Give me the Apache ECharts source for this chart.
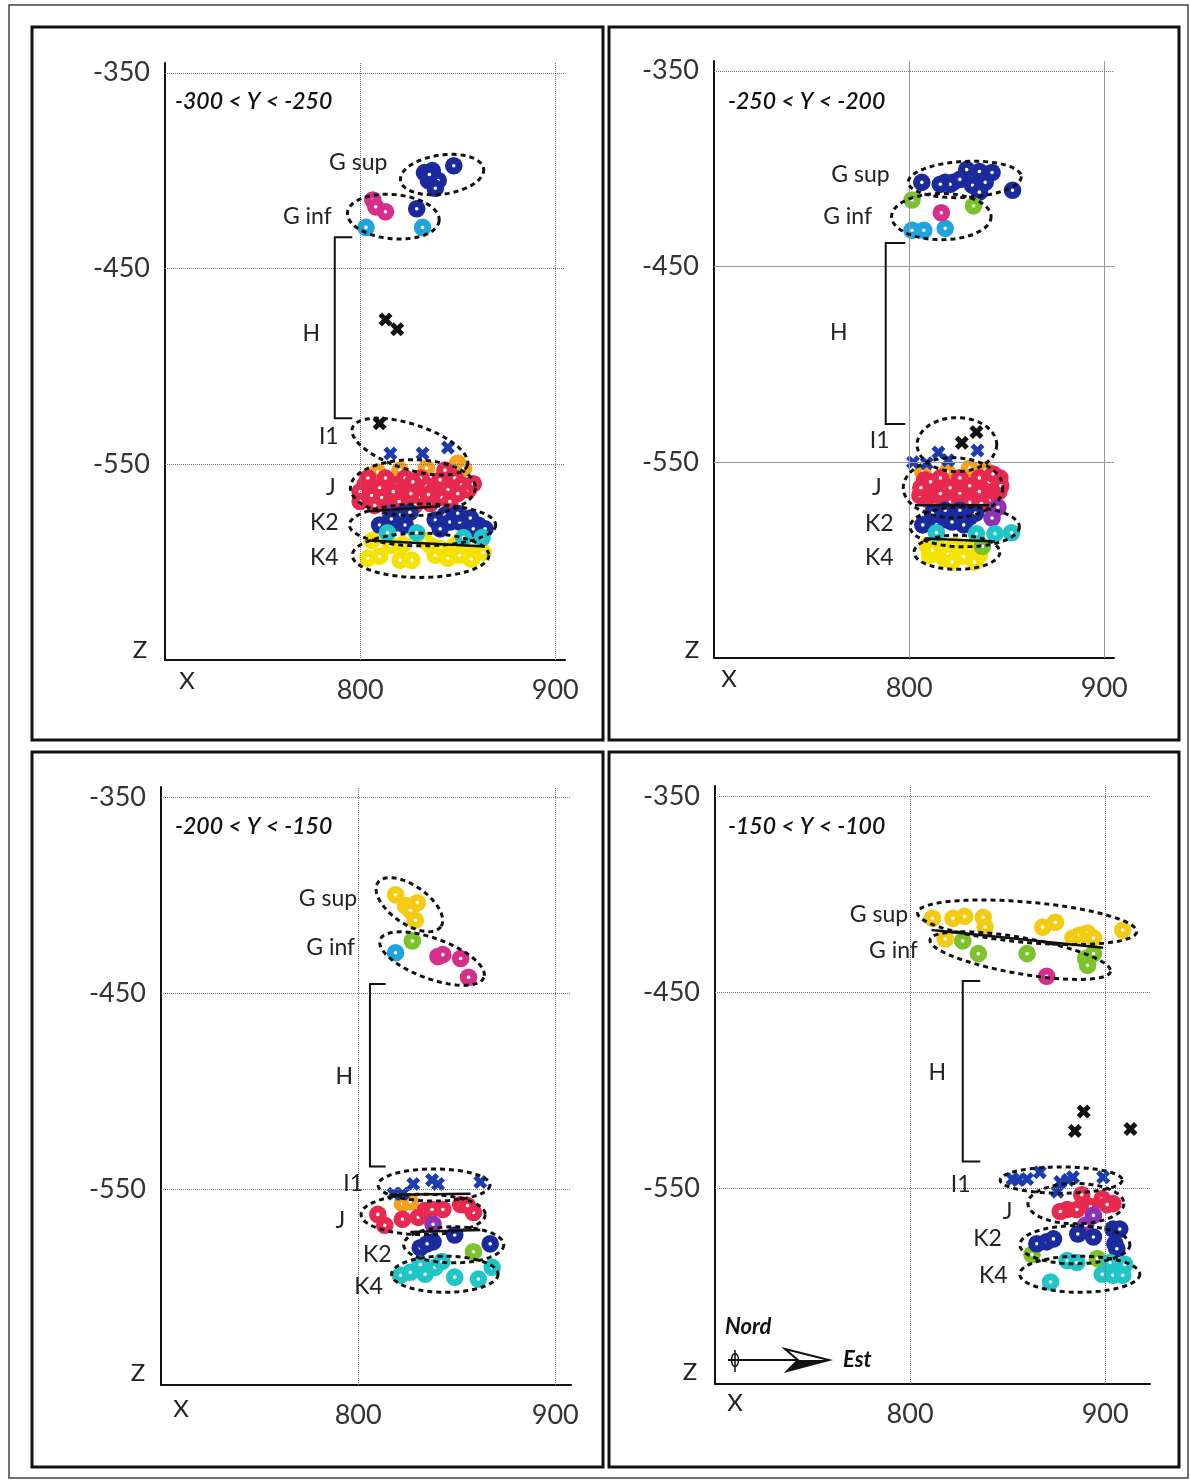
<!DOCTYPE html>
<html><head><meta charset="utf-8">
<script src="https://cdn.jsdelivr.net/npm/echarts@6/dist/echarts.min.js"></script>
<style>html,body{margin:0;padding:0;background:#fff}#c{width:1190px;height:1483px}</style>
</head><body><div id="c"></div>
<script>
// ---------- tick labels ----------
const xTicks = [800, 900];
const yTicks = [-350, -450, -550];
const panelTitles = ['-300 < Y < -250', '-250 < Y < -200', '-200 < Y < -150', '-150 < Y < -100'];

// ---------- Panel 1 : -300 < Y < -250 ----------
const p1Navy = [[833,-401],[837,-400],[840,-405],[835,-405],[838.5,-409],[835.5,-402],[848,-397.5],[829,-419.5],
  [810,-581],[818,-580],[820.5,-576],[825.5,-574.5],[814,-584],[823,-581],[838.5,-578.5],[843.5,-576],
  [846,-579.5],[851,-579.5],[856.5,-577.5],[860.5,-581],[864,-583],[841,-583],[816,-578],
  [850,-575],[858,-583]];
const p1Pink = [[806.5,-415],[808,-418.5],[813,-421]];
const p1LBlue = [[803,-429],[832,-429]];
const p1Orange = [[809,-554],[820.5,-553],[834,-552],[850,-549.5],[853,-552]];
const p1Red = [[802.5,-560.5],[806,-566],[810,-562],[814,-568.5],[818,-560.5],[821.5,-566],[825.5,-562],[830,-567],
  [833.5,-560.5],[837,-564],[841,-558],[845,-563],[848.5,-557],[852,-560.5],[855.5,-563],[807.5,-571],[818,-572.5],
  [828,-571],[836,-570],[800,-564],[813,-557],[823,-557],[831,-557],[843.5,-553],[804,-557],[817,-564],[826,-565],
  [835,-565.5],[842,-567],[850,-565],[858,-560],[811,-567],[820,-569],[827,-559],[846,-569],[800,-569]];
const p1Purple = [[815.5,-575]];
const p1Teal = [[814,-585],[829,-585],[853,-587.5],[862.5,-587.5]];
const p1Yellow = [[804,-598],[810,-597],[820.5,-599],[826.5,-599],[806,-589],[815.5,-591.5],[836,-591.5],[841,-593],
  [846,-595],[851,-596.5],[856.5,-595],[861.5,-593],[833,-589],[848.5,-591.5],[838.5,-596.5],[845,-598],
  [857,-598.5],[863,-595],[822,-591]];
const p1BlackX = [[813,-476],[819,-481],[810,-529]];
const p1BlueX = [[815.5,-544.5],[832,-544.5],[845,-541.5]];

// ---------- Panel 2 : -250 < Y < -200 ----------
const p2Navy = [[806.5,-407],[818.5,-407],[822.5,-407],[826,-405.5],[829.5,-400.5],[836,-401.5],[842.5,-402],[836,-407],
  [832.5,-408.5],[836,-412],[839,-407],[853,-411],[821,-408],[816,-408],
  [807,-582],[816,-578],[820,-579.5],[818.5,-574.5],[824.5,-576],[831,-578],[826,-574.5],[812,-576],[814,-582],
  [822,-580.5],[828,-582],[834,-576]];
const p2Green = [[801.5,-416],[833,-419],[837.5,-593]];
const p2Pink = [[816.5,-422.5]];
const p2LBlue = [[801.5,-431.5],[807.5,-431.5],[818.5,-430.5]];
const p2Orange = [[807,-555],[831,-553],[819.5,-555],[839,-554]];
const p2Red = [[808,-559],[813,-564],[818.5,-562],[823.5,-567],[828.5,-563],[833.5,-567],[839,-562],[844,-564],
  [846.5,-558],[805.5,-567],[810.5,-569.5],[821,-570.5],[831,-570.5],[841,-569.5],[826,-558],[816,-558],[836,-558],
  [806,-563],[811,-560],[816,-566],[821,-563],[826,-566],[831,-562],[836,-565],[841,-560],[846,-565],[813,-572],
  [826,-571],[837,-571],[843,-556],[847,-562]];
const p2Purple = [[845.5,-573],[842.5,-578.5],[812,-578]];
const p2Teal = [[814,-586],[834.5,-586.5],[844,-586.5],[852.5,-586]];
const p2Yellow = [[832,-407],[809.5,-592.5],[816,-594],[823.5,-592.5],[831,-594],[836,-597.5],[810.5,-597.5],
  [818,-599],[833.5,-601],[826,-596],[812,-595],[820,-597],[828,-598],[822,-601],[836,-593]];
const p2BlackX = [[834.5,-534.5],[827,-540]];
const p2BlueX = [[815,-545],[835,-544],[802,-550],[809,-550.5],[820,-549]];

// ---------- Panel 3 : -200 < Y < -150 ----------
const p3Gold = [[819,-400],[824,-405.5],[830,-404],[829,-413],[826.5,-408]];
const p3Green = [[827.5,-423.5],[858.5,-582]];
const p3LBlue = [[819,-429.5]];
const p3Pink = [[840.5,-431.5],[843,-430.5],[852,-432.5],[856,-442]];
const p3BlueX = [[818,-552.5],[822.5,-552.5],[828,-547.5],[837.5,-545.5],[840.5,-547.5],[862,-546.5]];
const p3Orange = [[822.5,-557.5],[826.5,-556.5]];
const p3Red = [[810,-563],[813.5,-568.5],[822.5,-565.5],[830.5,-564.5],[834,-561],[837.5,-560.5],[843,-560.5],
  [852,-558],[858.5,-562],[855.5,-558.5]];
const p3Purple = [[838,-568]];
const p3Navy = [[831.5,-580],[838,-577],[849,-573.5],[867,-578],[835,-578]];
const p3Teal = [[821.5,-594],[826.5,-592.5],[834,-593.5],[839,-590],[831.5,-588.5],[842.5,-587],[849,-595],
  [861,-596],[868,-590]];

// ---------- Panel 4 : -150 < Y < -100 ----------
const p4Gold = [[811.5,-412.5],[822,-412.5],[828,-411.5],[837.5,-412],[838.5,-417],[868,-417],[874.5,-414.5],
  [883.5,-422.5],[887,-421],[891,-420],[894,-422.5],[909,-418.5],[818,-423]];
const p4Green = [[827,-424],[835,-430.5],[860,-430.5],[890,-433],[891,-436.5],[894,-430.5],[862.5,-584],[896,-586]];
const p4Pink = [[870,-442]];
const p4BlackX = [[889,-511],[884.5,-521],[913,-520]];
const p4BlueX = [[852.5,-545.5],[855.5,-546],[860,-545.5],[866.5,-542],[877,-547],[881,-546],[883.5,-544.5],
  [875.5,-552],[899,-544.5]];
const p4Red = [[888,-553.5],[880.5,-561],[885.5,-561],[898.5,-555.5],[904,-558],[901,-558.5],[892.5,-559.5],[877,-562]];
const p4Purple = [[894,-564],[890,-569]];
const p4Navy = [[865,-578.5],[870,-577.5],[873.5,-576],[886,-573.5],[894,-575],[904,-571],[907.5,-571],[905,-578.5],[906,-581]];
const p4Teal = [[880.5,-587],[885.5,-588],[902.5,-588],[910,-589],[898.5,-594],[904,-594.5],[909,-594.5],[872,-598]];

// ---------- group outlines / labels (annotations, data coords) ----------
// ellipse: [cx, cy, rx, ry, rotationDeg]
const p1Ellipses = [[842,-402,21.5,10,-8],[817,-423.5,23.6,11.3,5],[825.5,-541,31,11.5,18],[827,-562,32,14.3,0],[832,-581,37.5,10.7,0],[831,-596.5,35,11.3,0]];
const p2Ellipses = [[828.5,-405.5,29,9.2,-3],[816.5,-424.5,25.5,11.8,0],[824.5,-541,20.4,13.8,0],[822.5,-563,25.5,15.3,0],[828.5,-583,28,10.2,0],[824.5,-596,22,8.7,0]];
const p3Ellipses = [[826,-405,19.5,9.7,35],[837.5,-432.5,28,10.3,20],[838.5,-548,28.4,8.2,0],[833,-563,31.5,10.3,0],[848.5,-578.5,25.4,9.2,0],[844,-593.5,27,9.2,0]];
const p4Ellipses = [[860,-414.5,56.4,10.3,5],[856.5,-431.5,47,9.2,10],[877.5,-546,31.3,6.7,0],[885,-558,24.6,10.3,0],[884.5,-579,28.2,9.7,0],[887,-594,30.8,9.2,0]];
const p1Lines = [[[804,-574],[841,-571.5]],[[805,-589],[864,-592]]];
const p2Lines = [[[803,-572],[841,-572]],[[808,-589],[844,-590.5]]];
const p3Lines = [[[816,-553],[857,-552.5]],[[826.5,-572],[862,-571]]];
const p4Lines = [[[811,-418.5],[899,-427.5]]];
// bracket: [x, top, bottom, tickEndX]
const p1Bracket = [787,-434,-526.5,796];
const p2Bracket = [788,-438,-530.5,798];
const p3Bracket = [806,-445.5,-538.5,814];
const p4Bracket = [827,-444.5,-536.5,836];
const p1Labels = [['G sup',814,-396,'right'],['G inf',785.5,-423.5,'right'],['H',775,-483,'center'],['I1',789,-536,'right'],['J',785,-562,'center'],['K2',789,-580,'right'],['K4',789,-597.5,'right']];
const p2Labels = [['G sup',790,-403,'right'],['G inf',781,-424.5,'right'],['H',764,-484,'center'],['I1',790,-539,'right'],['J',783.5,-563,'center'],['K2',792,-581.5,'right'],['K4',792,-598.5,'right']];
const p3Labels = [['G sup',799.5,-402,'right'],['G inf',798.5,-427,'right'],['H',793,-492.5,'center'],['I1',802.5,-547.5,'right'],['J',791,-566,'center'],['K2',817,-583.5,'right'],['K4',812.5,-600,'right']];
const p4Labels = [['G sup',799,-410.5,'right'],['G inf',804,-429,'right'],['H',814,-491,'center'],['I1',831,-548.5,'right'],['J',850,-562,'center'],['K2',847,-576,'right'],['K4',850,-594.5,'right']];

// ---------- styling ----------
const COL = {navy:'#1b2b9e', pink:'#d62f8b', lblue:'#1ea5de', red:'#e8294f', orange:'#f4a21c', purple:'#8a34b4',
  teal:'#1fc5c7', yellow:'#f6e200', gold:'#f4cb14', green:'#7cc22a', black:'#111111', bluex:'#1d3cae'};
const XSYM = 'path://M0,3L3,0L6,3L9,0L12,3L9,6L12,9L9,12L6,9L3,12L0,9L3,6Z';
const FONT = 'Lato, "Open Sans", sans-serif';

const chart = echarts.init(document.getElementById('c'));

const grids = [
  {left:165, top:63, width:400, height:597},
  {left:714, top:61, width:400, height:597},
  {left:161, top:787, width:410, height:598},
  {left:715, top:786, width:435, height:598}
];
const xMax = [905, 905, 908, 923];

const xAxes = grids.map((g, i) => ({
  gridIndex:i, type:'value', min:700, max:xMax[i], interval:100,
  axisLine:{show:true, onZero:false, lineStyle:{color:'#111', width:2}},
  axisTick:{show:false}, splitLine:{show:false},
  axisLabel:{fontSize:27, color:'#333', fontFamily:FONT, margin:17, showMaxLabel:true,
    formatter:v => xTicks.includes(v) ? String(v) : ''}
}));
const yAxes = grids.map((g, i) => ({
  gridIndex:i, type:'value', min:-650, max:-345, interval:50,
  axisLine:{show:true, onZero:false, lineStyle:{color:'#111', width:2}},
  axisTick:{show:false}, splitLine:{show:false},
  axisLabel:{fontSize:27, color:'#333', fontFamily:FONT, margin:15,
    formatter:v => yTicks.includes(v) ? String(v) : ''}
}));

const series = [];
function gridLines(gi) {
  const solid = gi === 1;
  const dotted = {color:'#777', type:'dotted', width:1};
  const sol = {color:'#999', type:'solid', width:1};
  const data = [];
  xTicks.forEach(v => data.push({xAxis:v, lineStyle: solid ? sol : dotted}));
  yTicks.forEach(v => data.push({yAxis:v, lineStyle: (solid && v !== -350) ? sol : dotted}));
  series.push({type:'scatter', xAxisIndex:gi, yAxisIndex:gi, data:[], silent:true,
    markLine:{silent:true, symbol:'none', label:{show:false}, animation:false, data}});
}
// ring-like marker: coloured disc with small white centre, drawn point by point
function dots(gi, data, color) {
  series.push({type:'custom', xAxisIndex:gi, yAxisIndex:gi, data, silent:true, clip:false,
    renderItem(params, api) {
      const p = api.coord([api.value(0), api.value(1)]);
      return {type:'group', children:[
        {type:'circle', shape:{cx:p[0], cy:p[1], r:8.8}, style:{fill:color}},
        {type:'circle', shape:{cx:p[0], cy:p[1], r:1.8}, style:{fill:'#fff'}}
      ]};
    }
  });
}
function crosses(gi, data, color) {
  series.push({type:'scatter', xAxisIndex:gi, yAxisIndex:gi, data, symbol:XSYM, symbolSize:14,
    itemStyle:{color, opacity:1}, silent:true, z:3});
}
function annotations(gi, ells, lines, bracket, labels) {
  const items = [];
  ells.forEach(e => items.push({t:'e', v:e, a:[e[0], e[1]]}));
  lines.forEach(l => items.push({t:'l', v:l, a:l[0]}));
  items.push({t:'b', v:bracket, a:[bracket[0], bracket[1]]});
  labels.forEach(l => items.push({t:'t', v:l, a:[l[1], l[2]]}));
  series.push({type:'custom', xAxisIndex:gi, yAxisIndex:gi, silent:true, clip:false, z:10,
    data: items.map(it => it.a),
    renderItem(params, api) {
      const it = items[params.dataIndex];
      if (it.t === 'e') {
        const [cx, cy, rx, ry, rot] = it.v;
        const c = api.coord([cx, cy]);
        const a = api.size([rx, 0])[0], b = api.size([0, ry])[1];
        const th = rot * Math.PI / 180;
        const pts = [];
        for (let k = 0; k < 72; k++) {
          const t = k / 72 * Math.PI * 2;
          const ex = a * Math.cos(t), ey = b * Math.sin(t);
          pts.push([c[0] + ex * Math.cos(th) - ey * Math.sin(th), c[1] + ex * Math.sin(th) + ey * Math.cos(th)]);
        }
        return {type:'polygon', shape:{points:pts}, style:{fill:'none', stroke:'#111', lineWidth:3, lineDash:[5,4]}};
      }
      if (it.t === 'l') {
        return {type:'polyline', shape:{points:[api.coord(it.v[0]), api.coord(it.v[1])]},
          style:{fill:'none', stroke:'#111', lineWidth:2.5}};
      }
      if (it.t === 'b') {
        const [x, top, bot, te] = it.v;
        return {type:'polyline', shape:{points:[api.coord([te, top]), api.coord([x, top]), api.coord([x, bot]), api.coord([te, bot])]},
          style:{fill:'none', stroke:'#111', lineWidth:2}};
      }
      const p = api.coord([it.v[1], it.v[2]]);
      return {type:'text', x:p[0], y:p[1], style:{text:it.v[0], fill:'#222', font:'23px ' + FONT,
        align:it.v[3], verticalAlign:'middle'}};
    }
  });
}

// panel 1
gridLines(0);
dots(0, p1Orange, COL.orange); dots(0, p1Red, COL.red); dots(0, p1Purple, COL.purple);
dots(0, p1Yellow, COL.yellow); dots(0, p1Navy, COL.navy); dots(0, p1Teal, COL.teal);
dots(0, p1LBlue, COL.lblue); dots(0, p1Pink, COL.pink);
crosses(0, p1BlackX, COL.black); crosses(0, p1BlueX, COL.bluex);
annotations(0, p1Ellipses, p1Lines, p1Bracket, p1Labels);
// panel 2
gridLines(1);
dots(1, p2Orange, COL.orange); dots(1, p2Red, COL.red); dots(1, p2Purple, COL.purple);
dots(1, p2Yellow, COL.yellow); dots(1, p2Navy, COL.navy); dots(1, p2Teal, COL.teal);
dots(1, p2Green, COL.green); dots(1, p2LBlue, COL.lblue); dots(1, p2Pink, COL.pink);
crosses(1, p2BlackX, COL.black); crosses(1, p2BlueX, COL.bluex);
annotations(1, p2Ellipses, p2Lines, p2Bracket, p2Labels);
// panel 3
gridLines(2);
dots(2, p3Gold, COL.gold); dots(2, p3Orange, COL.orange); dots(2, p3Red, COL.red); dots(2, p3Purple, COL.purple);
dots(2, p3Navy, COL.navy); dots(2, p3Teal, COL.teal); dots(2, p3Green, COL.green);
dots(2, p3LBlue, COL.lblue); dots(2, p3Pink, COL.pink);
crosses(2, p3BlueX, COL.bluex);
annotations(2, p3Ellipses, p3Lines, p3Bracket, p3Labels);
// panel 4
gridLines(3);
dots(3, p4Gold, COL.gold); dots(3, p4Green, COL.green); dots(3, p4Pink, COL.pink);
dots(3, p4Red, COL.red); dots(3, p4Purple, COL.purple); dots(3, p4Navy, COL.navy); dots(3, p4Teal, COL.teal);
crosses(3, p4BlackX, COL.black); crosses(3, p4BlueX, COL.bluex);
annotations(3, p4Ellipses, p4Lines, p4Bracket, p4Labels);

// ---------- frames, titles, axis letters, compass ----------
const frames = [[32,27,571,713],[609,27,570,713],[32,752,571,715],[609,752,570,715]];
const titlePos = [[175,102],[728,102],[175,827],[728,827]];
const zPos = [[140,650],[692,650],[138,1373],[690,1372]];
const xPos = [[187,681],[729,679],[181,1409],[735,1403]];
const graphics = [{type:'rect', shape:{x:9,y:5,width:1179,height:1473}, style:{fill:'none', stroke:'#444', lineWidth:1.5}}];
frames.forEach(f => graphics.push({type:'rect', shape:{x:f[0],y:f[1],width:f[2],height:f[3]}, style:{fill:'none', stroke:'#111', lineWidth:3}}));
titlePos.forEach((p, i) => graphics.push({type:'text', x:p[0], y:p[1], style:{text:panelTitles[i], font:'italic 600 23px ' + FONT, fill:'#111', verticalAlign:'middle'}}));
zPos.forEach(p => graphics.push({type:'text', x:p[0], y:p[1], style:{text:'Z', font:'24px ' + FONT, fill:'#222', align:'center', verticalAlign:'middle'}}));
xPos.forEach(p => graphics.push({type:'text', x:p[0], y:p[1], style:{text:'X', font:'24px ' + FONT, fill:'#222', align:'center', verticalAlign:'middle'}}));
graphics.push({type:'text', x:725, y:1327, style:{text:'Nord', font:'italic bold 22px ' + FONT, fill:'#111', verticalAlign:'middle'}});
graphics.push({type:'text', x:843, y:1360, style:{text:'Est', font:'italic bold 22px ' + FONT, fill:'#111', verticalAlign:'middle'}});
graphics.push({type:'line', shape:{x1:728,y1:1360,x2:800,y2:1360}, style:{stroke:'#111', lineWidth:2}});
graphics.push({type:'polygon', shape:{points:[[785,1349],[829,1360],[787,1371],[798,1360]]}, style:{fill:'#fff', stroke:'#111', lineWidth:2}});
graphics.push({type:'polygon', shape:{points:[[798,1360],[829,1360],[787,1371]]}, style:{fill:'#111'}});
graphics.push({type:'ellipse', shape:{cx:735,cy:1360,rx:3.5,ry:6.5}, style:{fill:'none', stroke:'#111', lineWidth:1.5}});
graphics.push({type:'line', shape:{x1:735,y1:1350,x2:735,y2:1372}, style:{stroke:'#111', lineWidth:1.5}});

chart.setOption({
  animation:false,
  backgroundColor:'#fff',
  grid:grids,
  xAxis:xAxes,
  yAxis:yAxes,
  series,
  graphic:{elements:graphics}
});
</script>
</body></html>
